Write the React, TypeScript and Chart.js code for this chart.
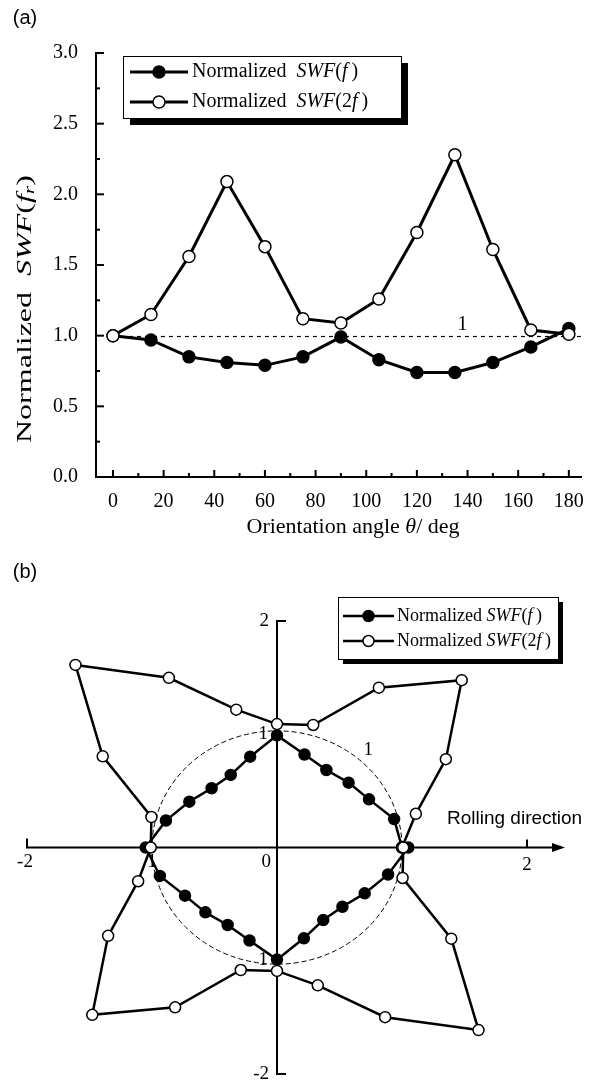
import React, { useEffect, useRef } from "react";
import { Chart, registerables } from "chart.js";

Chart.register(...registerables);

// ---------- data ----------
const ANGLES = [0, 15, 30, 45, 60, 75, 90, 105, 120, 135, 150, 165, 180];
const SWF_F = [1.0, 0.97, 0.85, 0.81, 0.79, 0.85, 0.99, 0.83, 0.74, 0.74, 0.81, 0.92, 1.05];
const SWF_2F = [1.0, 1.15, 1.56, 2.09, 1.63, 1.12, 1.09, 1.26, 1.73, 2.28, 1.61, 1.04, 1.01];
const X_TICKS = [0, 20, 40, 60, 80, 100, 120, 140, 160, 180];
const X_MINOR = [10, 30, 50, 70, 90, 110, 130, 150, 170];
const Y_TICKS = [0, 0.5, 1.0, 1.5, 2.0, 2.5, 3.0];
const Y_MINOR = [0.25, 0.75, 1.25, 1.75, 2.25, 2.75];
const REF_LEVEL = 1;
const POLAR_ANGLES = [0, 15, 30, 45, 60, 75, 90, 105, 120, 135, 150, 165, 180, 195, 210, 225, 240, 255, 270, 285, 300, 315, 330, 345, 360];
const POLAR_TICKS = [-2, 2];
const UNIT_CIRCLE = 1;

const SERIF = '"Liberation Serif", "Times New Roman", serif';
const SANS = '"Liberation Sans", Arial, sans-serif';

type Part = { t: string; it?: boolean; sz?: number; dy?: number };

function drawRich(
  ctx: CanvasRenderingContext2D,
  parts: Part[],
  x: number,
  y: number,
  size: number,
  align: "left" | "center" | "right",
  family = SERIF
) {
  const fontOf = (p: Part) => `${p.it ? "italic " : ""}${p.sz ?? size}px ${family}`;
  let w = 0;
  for (const p of parts) {
    ctx.font = fontOf(p);
    w += ctx.measureText(p.t).width;
  }
  let cx = align === "center" ? x - w / 2 : align === "right" ? x - w : x;
  ctx.textAlign = "left";
  ctx.textBaseline = "middle";
  for (const p of parts) {
    ctx.font = fontOf(p);
    ctx.fillText(p.t, cx, y + (p.dy ?? 0));
    cx += ctx.measureText(p.t).width;
  }
  return w;
}

function richWidth(ctx: CanvasRenderingContext2D, parts: Part[], size: number, family = SERIF) {
  let w = 0;
  for (const p of parts) {
    ctx.font = `${p.it ? "italic " : ""}${p.sz ?? size}px ${family}`;
    w += ctx.measureText(p.t).width;
  }
  return w;
}

const LEG_F: Part[] = [{ t: "Normalized" }, { t: "  " }, { t: "SWF", it: true }, { t: "(" }, { t: "f", it: true }, { t: "\u2009)" }];
const LEG_2F: Part[] = [{ t: "Normalized" }, { t: "  " }, { t: "SWF", it: true }, { t: "(2" }, { t: "f", it: true }, { t: "\u2009)" }];
const LEG_F_B: Part[] = [{ t: "Normalized " }, { t: "SWF", it: true }, { t: "(" }, { t: "f", it: true }, { t: "\u2009)" }];
const LEG_2F_B: Part[] = [{ t: "Normalized " }, { t: "SWF", it: true }, { t: "(2" }, { t: "f", it: true }, { t: "\u2009)" }];

function drawMarker(ctx: CanvasRenderingContext2D, x: number, y: number, r: number, filled: boolean) {
  ctx.beginPath();
  ctx.arc(x, y, r, 0, Math.PI * 2);
  ctx.fillStyle = filled ? "#000" : "#fff";
  ctx.fill();
  ctx.lineWidth = 1.5;
  ctx.strokeStyle = "#000";
  ctx.stroke();
}

function drawLegend(
  ctx: CanvasRenderingContext2D,
  box: { x: number; y: number; w: number; h: number; sh: number },
  rows: { y: number; parts: Part[]; filled: boolean }[],
  sample: { x0: number; x1: number; r: number; lw: number; tx: number },
  size: number
) {
  ctx.save();
  ctx.fillStyle = "#000";
  ctx.fillRect(box.x + box.sh, box.y + box.sh, box.w, box.h);
  ctx.fillStyle = "#fff";
  ctx.fillRect(box.x, box.y, box.w, box.h);
  ctx.lineWidth = 1;
  ctx.strokeStyle = "#000";
  ctx.strokeRect(box.x + 0.5, box.y + 0.5, box.w, box.h);
  for (const row of rows) {
    ctx.beginPath();
    ctx.moveTo(sample.x0, row.y);
    ctx.lineTo(sample.x1, row.y);
    ctx.lineWidth = sample.lw;
    ctx.strokeStyle = "#000";
    ctx.stroke();
    drawMarker(ctx, (sample.x0 + sample.x1) / 2, row.y, sample.r, row.filled);
    ctx.fillStyle = "#000";
    drawRich(ctx, row.parts, sample.tx, row.y, size, "left");
  }
  ctx.restore();
}

// ---------- chart (a) ----------
const H_A = 540;
const H_B = 541;

const pluginA = {
  id: "panelA",
  beforeDatasetsDraw(chart: any) {
    const { ctx, chartArea, scales } = chart;
    const xs = scales.x, ys = scales.y;
    ctx.save();
    ctx.setLineDash([4, 4]);
    ctx.lineWidth = 1.2;
    ctx.strokeStyle = "#000";
    const yy = Math.round(ys.getPixelForValue(REF_LEVEL)) + 0.5;
    ctx.beginPath();
    ctx.moveTo(xs.getPixelForValue(0), yy);
    ctx.lineTo(chartArea.right, yy);
    ctx.stroke();
    ctx.restore();
  },
  afterDraw(chart: any) {
    const { ctx, chartArea, scales } = chart;
    const xs = scales.x, ys = scales.y;
    ctx.save();
    ctx.strokeStyle = "#000";
    ctx.lineWidth = 2;
    const b = chartArea.bottom, l = chartArea.left;
    for (const v of X_TICKS) {
      const p = xs.getPixelForValue(v);
      ctx.beginPath(); ctx.moveTo(p, b); ctx.lineTo(p, b - 7); ctx.stroke();
    }
    for (const v of X_MINOR) {
      const p = xs.getPixelForValue(v);
      ctx.beginPath(); ctx.moveTo(p, b); ctx.lineTo(p, b - 4); ctx.stroke();
    }
    for (const v of Y_TICKS) {
      const p = ys.getPixelForValue(v);
      ctx.beginPath(); ctx.moveTo(l, p); ctx.lineTo(l + 8, p); ctx.stroke();
    }
    for (const v of Y_MINOR) {
      const p = ys.getPixelForValue(v);
      ctx.beginPath(); ctx.moveTo(l, p); ctx.lineTo(l + 4, p); ctx.stroke();
    }
    ctx.fillStyle = "#000";
    drawRich(ctx, [{ t: "1" }], xs.getPixelForValue(138), ys.getPixelForValue(1.08), 20, "center");
    drawRich(
      ctx,
      [{ t: "Orientation angle " }, { t: "\u03b8", it: true }, { t: "/ deg" }],
      353, 527, 22, "center"
    );
    const yParts: Part[] = [
      { t: "Normalized" }, { t: "  " }, { t: "SWF", it: true }, { t: "(" }, { t: "f", it: true },
      { t: "r", it: true, sz: 15, dy: 5 }, { t: ")" },
    ];
    ctx.save();
    ctx.translate(25, 309);
    ctx.rotate(-Math.PI / 2);
    const w = richWidth(ctx, yParts, 22);
    ctx.scale(268 / w, 1);
    drawRich(ctx, yParts, 0, 0, 22, "center");
    ctx.restore();
    drawRich(ctx, [{ t: "(a)" }], 25, 18, 20, "center", SANS);
    drawLegend(
      ctx,
      { x: 123, y: 56, w: 278, h: 62, sh: 7 },
      [
        { y: 72, parts: LEG_F, filled: true },
        { y: 102, parts: LEG_2F, filled: false },
      ],
      { x0: 130, x1: 188, r: 6, lw: 3, tx: 192 },
      20
    );
    ctx.restore();
  },
};

function ChartA() {
  const ref = useRef<HTMLCanvasElement>(null);
  useEffect(() => {
    const chart = new Chart(ref.current!, {
      type: "scatter",
      data: {
        datasets: [
          {
            label: "Normalized SWF(2f)",
            data: ANGLES.map((a, i) => ({ x: a, y: SWF_2F[i] })),
            showLine: true,
            borderColor: "#000",
            borderWidth: 3,
            pointRadius: 6,
            pointBackgroundColor: "#fff",
            pointBorderColor: "#000",
            pointBorderWidth: 1.5,
          },
          {
            label: "Normalized SWF(f)",
            data: ANGLES.map((a, i) => ({ x: a, y: SWF_F[i] })),
            showLine: true,
            borderColor: "#000",
            borderWidth: 3,
            pointRadius: 6,
            pointBackgroundColor: "#000",
            pointBorderColor: "#000",
            pointBorderWidth: 1.5,
          },
        ],
      },
      options: {
        animation: false,
        responsive: false,
        events: [],
        layout: { padding: { top: 53, right: 6, left: 0, bottom: 0 } },
        plugins: { legend: { display: false }, tooltip: { enabled: false } },
        scales: {
          x: {
            type: "linear",
            min: -6.7,
            max: 185,
            afterBuildTicks: (s: any) => {
              s.ticks = X_TICKS.map((v) => ({ value: v }));
            },
            afterFit: (s: any) => {
              s.height = H_A - 477;
              s.paddingLeft = 0;
              s.paddingRight = 0;
            },
            grid: { display: false, drawTicks: false },
            border: { display: true, color: "#000", width: 2 },
            ticks: { color: "#000", padding: 13, maxRotation: 0, font: { family: SERIF, size: 20 } },
          },
          y: {
            type: "linear",
            min: 0,
            max: 3,
            afterBuildTicks: (s: any) => {
              s.ticks = Y_TICKS.map((v) => ({ value: v }));
            },
            afterFit: (s: any) => {
              s.width = 96;
              s.paddingTop = 0;
              s.paddingBottom = 0;
            },
            grid: { display: false, drawTicks: false },
            border: { display: true, color: "#000", width: 2 },
            ticks: {
              color: "#000",
              padding: 18,
              font: { family: SERIF, size: 20 },
              callback: (v: any) => Number(v).toFixed(1),
            },
          },
        },
      },
      plugins: [pluginA],
    } as any);
    return () => chart.destroy();
  }, []);
  return (
    <canvas
      ref={ref}
      width={589}
      height={H_A}
      style={{ position: "absolute", left: 0, top: 0, width: 589, height: H_A }}
    />
  );
}

// ---------- chart (b) ----------
function polarValue(series: number[], deg: number) {
  const idx = deg <= 180 ? deg / 15 : (deg - 180) / 15;
  return series[idx];
}
function polarPoints(series: number[]) {
  return POLAR_ANGLES.map((deg) => {
    const r = polarValue(series, deg);
    const t = (deg * Math.PI) / 180;
    return { x: r * Math.cos(t), y: r * Math.sin(t) };
  });
}

const pluginB = {
  id: "panelB",
  beforeDatasetsDraw(chart: any) {
    const { ctx, scales } = chart;
    const xs = scales.x, ys = scales.y;
    const ox = xs.getPixelForValue(0), oy = ys.getPixelForValue(0);
    ctx.save();
    ctx.strokeStyle = "#000";
    ctx.fillStyle = "#000";
    ctx.lineWidth = 2;
    const xl = xs.getPixelForValue(POLAR_TICKS[0]);
    const xr = xs.getPixelForValue(POLAR_TICKS[1]);
    const arrowTip = xr + 38;
    ctx.beginPath();
    ctx.moveTo(xl, oy - 9);
    ctx.lineTo(xl, oy);
    ctx.lineTo(arrowTip - 8, oy);
    ctx.stroke();
    ctx.beginPath();
    ctx.moveTo(arrowTip, oy);
    ctx.lineTo(arrowTip - 13, oy - 4.5);
    ctx.lineTo(arrowTip - 13, oy + 4.5);
    ctx.closePath();
    ctx.fill();
    ctx.beginPath();
    ctx.moveTo(xr, oy);
    ctx.lineTo(xr, oy - 8);
    ctx.stroke();
    const yt = ys.getPixelForValue(POLAR_TICKS[1]);
    const yb = ys.getPixelForValue(POLAR_TICKS[0]);
    ctx.beginPath();
    ctx.moveTo(ox + 9, yt);
    ctx.lineTo(ox, yt);
    ctx.lineTo(ox, yb);
    ctx.lineTo(ox + 9, yb);
    ctx.stroke();
    const rx = xs.getPixelForValue(UNIT_CIRCLE) - ox;
    const ry = oy - ys.getPixelForValue(UNIT_CIRCLE * 1.03);
    ctx.setLineDash([5, 3]);
    ctx.lineWidth = 1;
    ctx.beginPath();
    ctx.ellipse(ox, oy, rx, ry, 0, 0, Math.PI * 2);
    ctx.stroke();
    ctx.restore();
  },
  afterDraw(chart: any) {
    const { ctx, scales } = chart;
    const xs = scales.x, ys = scales.y;
    const ox = xs.getPixelForValue(0), oy = ys.getPixelForValue(0);
    ctx.save();
    ctx.fillStyle = "#000";
    drawRich(ctx, [{ t: String(POLAR_TICKS[0]) }], xs.getPixelForValue(POLAR_TICKS[0]) - 2, oy + 15, 19, "center");
    drawRich(ctx, [{ t: String(POLAR_TICKS[1]) }], xs.getPixelForValue(POLAR_TICKS[1]), oy + 18, 19, "center");
    drawRich(ctx, [{ t: "0" }], ox - 6, oy + 15, 19, "right");
    drawRich(ctx, [{ t: String(POLAR_TICKS[1]) }], ox - 8, ys.getPixelForValue(POLAR_TICKS[1]), 19, "right");
    drawRich(ctx, [{ t: String(POLAR_TICKS[0]) }], ox - 8, ys.getPixelForValue(POLAR_TICKS[0]), 19, "right");
    drawRich(ctx, [{ t: "1" }], ox - 9, ys.getPixelForValue(1.0), 19, "right");
    drawRich(ctx, [{ t: "1" }], ox - 9, ys.getPixelForValue(-0.99), 19, "right");
    drawRich(ctx, [{ t: "1" }], xs.getPixelForValue(-1.0), oy + 15, 19, "center");
    drawRich(ctx, [{ t: "1" }], xs.getPixelForValue(0.73), ys.getPixelForValue(0.86), 19, "center");
    drawRich(ctx, [{ t: "Rolling direction" }], xs.getPixelForValue(1.36), ys.getPixelForValue(0.25), 19, "left", SANS);
    drawRich(ctx, [{ t: "(b)" }], 25, 32, 20, "center", SANS);
    drawLegend(
      ctx,
      { x: 338, y: 57, w: 220, h: 62, sh: 5 },
      [
        { y: 76, parts: LEG_F_B, filled: true },
        { y: 101, parts: LEG_2F_B, filled: false },
      ],
      { x0: 343, x1: 394, r: 5.5, lw: 2.5, tx: 397 },
      18
    );
    ctx.restore();
  },
};

function ChartB() {
  const ref = useRef<HTMLCanvasElement>(null);
  useEffect(() => {
    const chart = new Chart(ref.current!, {
      type: "scatter",
      data: {
        datasets: [
          {
            label: "Normalized SWF(2f)",
            data: polarPoints(SWF_2F),
            showLine: true,
            borderColor: "#000",
            borderWidth: 2.5,
            pointRadius: 5.5,
            pointBackgroundColor: "#fff",
            pointBorderColor: "#000",
            pointBorderWidth: 1.5,
          },
          {
            label: "Normalized SWF(f)",
            data: polarPoints(SWF_F),
            showLine: true,
            borderColor: "#000",
            borderWidth: 2.5,
            pointRadius: 5.5,
            pointBackgroundColor: "#000",
            pointBorderColor: "#000",
            pointBorderWidth: 1.5,
          },
        ],
      },
      options: {
        animation: false,
        responsive: false,
        events: [],
        clip: false,
        layout: { padding: { left: 27, right: 62, top: 81, bottom: 6 } },
        plugins: { legend: { display: false }, tooltip: { enabled: false } },
        scales: {
          x: { type: "linear", min: -2, max: 2, display: false },
          y: { type: "linear", min: -2, max: 2, display: false },
        },
      },
      plugins: [pluginB],
    } as any);
    return () => chart.destroy();
  }, []);
  return (
    <canvas
      ref={ref}
      width={589}
      height={H_B}
      style={{ position: "absolute", left: 0, top: H_A, width: 589, height: H_B }}
    />
  );
}

export default function App() {
  return (
    <div style={{ position: "absolute", left: 0, top: 0, width: 589, height: 1081, background: "#fff" }}>
      <ChartA />
      <ChartB />
    </div>
  );
}
